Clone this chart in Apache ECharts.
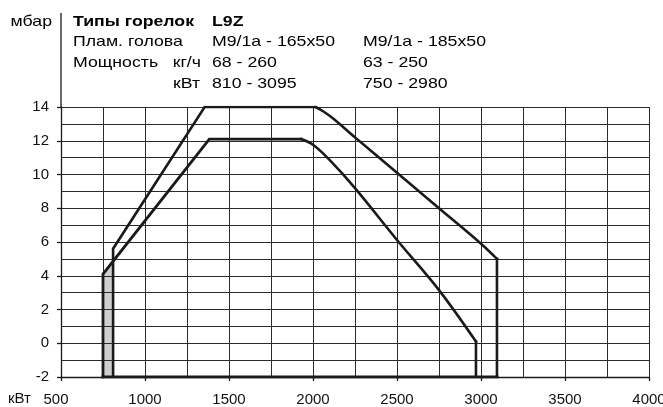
<!DOCTYPE html>
<html>
<head>
<meta charset="utf-8">
<script src="https://cdn.jsdelivr.net/npm/echarts@6/dist/echarts.min.js"></script>
<style>
html,body{margin:0;padding:0;background:#fff;}
#c{width:663px;height:407px;}
</style>
</head>
<body>
<div id="c"></div>
<script>
// Data (kW, mbar)
// Burner head M9/1a - 165x50 (outer field): straight part, curved part, right edge
const outerLineX = [810, 810, 1355, 2015];
const outerLineY = [-2, 5.6, 14, 14];
const outerCurveX = [2015, 2060, 2120, 2250, 2500, 2750, 3000, 3095];
const outerCurveY = [14, 13.75, 13.32, 12.2, 10.1, 8.0, 5.9, 5.0];
const outerEdgeX = [3095, 3095];
const outerEdgeY = [5.0, -2];
// Burner head M9/1a - 185x50 (inner field)
const innerLineX = [750, 750, 1383, 1930];
const innerLineY = [-2, 4.1, 12.1, 12.1];
const innerCurveX = [1930, 2000, 2100, 2250, 2500, 2750, 2970];
const innerCurveY = [12.1, 11.76, 10.85, 9.19, 6.12, 3.15, 0.1];
const innerEdgeX = [2970, 2970];
const innerEdgeY = [0.1, -2];
// bottom line and shaded strip
const baseX = [750, 3095];
const baseY = [-2, -2];
const shadeX = [750, 810];
const shadeY = [4.1, 4.9];
const xTicks = [500, 1000, 1500, 2000, 2500, 3000, 3500, 4000];
const yTicks = [-2, 0, 2, 4, 6, 8, 10, 12, 14];

const headerRows = [
  ["Типы горелок", "L9Z", ""],
  ["Плам. голова", "M9/1a - 165x50", "M9/1a - 185x50"],
  ["Мощность  кг/ч", "68 - 260", "63 - 250"],
  ["кВт", "810 - 3095", "750 - 2980"]
];

const zip = (xs, ys) => xs.map((x, i) => [x, ys[i]]);
const FONT = '"Liberation Sans", Arial, Helvetica, sans-serif';
const INK = '#1a1a1a';

const chart = echarts.init(document.getElementById('c'), null, {renderer: 'canvas'});

const gridLine = {show: true, lineStyle: {color: '#2b2b2b', width: 1}};
const curveStyle = {color: INK, width: 2.6, join: 'miter', cap: 'square'};

function lineSeries(xs, ys, smooth, width) {
  return {
    type: 'line', data: zip(xs, ys), symbol: 'none', z: 3, smooth: smooth || false,
    lineStyle: Object.assign({}, curveStyle, width ? {width: width} : {})
  };
}

const option = {
  animation: false,
  backgroundColor: '#ffffff',
  grid: {left: 61, right: 14, top: 107, bottom: 30, outerBoundsMode: 'none', containLabel: false},
  xAxis: {
    type: 'value', min: xTicks[0], max: xTicks[xTicks.length - 1], interval: 500,
    axisLine: {show: true, onZero: false, lineStyle: {color: INK, width: 1.3}},
    axisTick: {show: true, length: 4, lineStyle: {color: INK, width: 1.3}},
    minorTick: {show: false, splitNumber: 2},
    splitLine: gridLine,
    minorSplitLine: gridLine,
    axisLabel: {
      color: '#111', fontFamily: FONT, fontSize: 15, margin: 15,
      hideOverlap: false,
      formatter: v => v === xTicks[0] ? '{a|' + v + '}' : String(v),
      rich: {a: {fontFamily: FONT, fontSize: 15, color: '#111', padding: [0, 10, 0, 0]}}
    }
  },
  yAxis: {
    type: 'value', min: yTicks[0], max: yTicks[yTicks.length - 1], interval: 2,
    axisLine: {show: true, onZero: false, lineStyle: {color: INK, width: 1.3}},
    axisTick: {show: true, length: 4, lineStyle: {color: INK, width: 1.3}},
    minorTick: {show: false, splitNumber: 2},
    splitLine: gridLine,
    minorSplitLine: gridLine,
    axisLabel: {color: '#111', fontFamily: FONT, fontSize: 15, margin: 12}
  },
  series: [
    {
      type: 'line', data: zip(shadeX, shadeY), symbol: 'none', z: -1,
      lineStyle: {width: 0, opacity: 0},
      areaStyle: {color: '#cfcfcf', opacity: 1, origin: 'start'}
    },
    lineSeries(outerLineX, outerLineY),
    lineSeries(outerCurveX, outerCurveY, 0.35),
    lineSeries(outerEdgeX, outerEdgeY),
    lineSeries(innerLineX, innerLineY, false, 2.8),
    lineSeries(innerCurveX, innerCurveY, 0.35),
    lineSeries(innerEdgeX, innerEdgeY),
    Object.assign(lineSeries(baseX, baseY, false, 3.2), {z: 4})
  ]
};
chart.setOption(option);

// header / decorations
const topLeft = chart.convertToPixel({gridIndex: 0}, [xTicks[0], yTicks[yTicks.length - 1]]);
const colX = [73, 212, 363];
const baselines = [26, 46, 67, 88];
const SX = 1.18;
const graphics = [];
graphics.push({
  type: 'line', shape: {x1: topLeft[0], y1: 13, x2: topLeft[0], y2: topLeft[1]},
  style: {stroke: INK, lineWidth: 1.3}, silent: true
});
function txt(str, x, baseY, opts) {
  opts = opts || {};
  return {
    type: 'text', x: x, y: baseY - 4, scaleX: opts.sx || SX, silent: true,
    style: {
      text: str, x: 0, y: 0, fill: '#000',
      font: (opts.bold ? 'bold ' : '') + '15px ' + FONT,
      textAlign: opts.align || 'left', textVerticalAlign: 'middle'
    }
  };
}
graphics.push(txt('мбар', 52, baselines[0], {align: 'right'}));
headerRows.forEach((row, r) => {
  if (r === 3) {
    graphics.push(txt(row[0], 200, baselines[r], {align: 'right'}));
  } else if (r === 2) {
    graphics.push(txt('Мощность', colX[0], baselines[r]));
    graphics.push(txt('кг/ч', 201, baselines[r], {align: 'right'}));
  } else {
    graphics.push(txt(row[0], colX[0], baselines[r], {bold: r === 0}));
  }
  graphics.push(txt(row[1], colX[1], baselines[r], {bold: r === 0}));
  if (row[2]) graphics.push(txt(row[2], colX[2], baselines[r]));
});
const bottomY = chart.convertToPixel({gridIndex: 0}, [xTicks[0], yTicks[0]])[1];
graphics.push({
  type: 'text', x: 8, y: bottomY + 22, silent: true,
  style: {text: 'кВт', x: 0, y: 0, fill: '#111', font: '15px ' + FONT, textAlign: 'left', textVerticalAlign: 'middle'}
});
chart.setOption({graphic: graphics});
</script>
</body>
</html>
